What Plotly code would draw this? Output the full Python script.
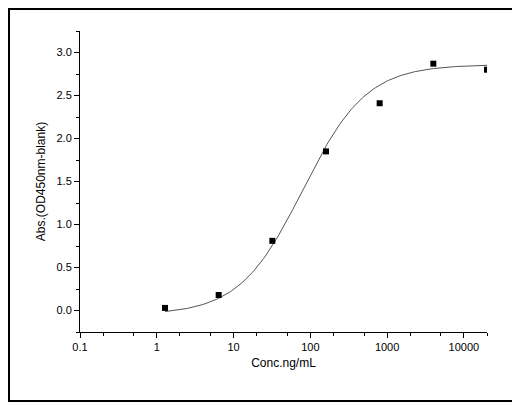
import plotly.graph_objects as go
import numpy as np

conc = [1.28, 6.4, 32, 160, 800, 4000, 20000]
absorb = [0.03, 0.18, 0.81, 1.85, 2.41, 2.87, 2.80]

# 4-parameter logistic fit parameters (bottom, top, EC50, slope)
fit_bottom, fit_top, fit_ec50, fit_slope = -0.05, 2.86, 80, 1.05

xs = np.logspace(np.log10(1.28), np.log10(20000), 200)
ys = fit_top + (fit_bottom - fit_top) / (1 + (xs / fit_ec50) ** fit_slope)

fig = go.Figure()
fig.add_trace(go.Scatter(x=xs, y=ys, mode='lines',
                         line=dict(color='#555555', width=1), hoverinfo='skip'))
fig.add_trace(go.Scatter(x=conc, y=absorb, mode='markers',
                         marker=dict(symbol='square', size=6, color='black')))

axis_common = dict(showline=True, linecolor='black', linewidth=1, ticks='outside',
                   tickcolor='black', ticklen=5, showgrid=False, zeroline=False,
                   mirror=False, tickfont=dict(size=11, color='black'))

W, H = 512, 394
L, R, T, B = 72, 33, 23, 70
pw, ph = W - L - R, H - T - B

fig.update_layout(
    width=W, height=H,
    paper_bgcolor='white', plot_bgcolor='white',
    margin=dict(l=L, r=R, t=T, b=B),
    showlegend=False,
    font=dict(family='Liberation Sans, Arial', color='black'),
    xaxis=dict(type='log', range=[-1, np.log10(20000)],
               tickvals=[0.1, 1, 10, 100, 1000, 10000],
               ticktext=['0.1', '1', '10', '100', '1000', '10000'],
               minor=dict(ticks='outside', ticklen=3, tickcolor='black'),
               title=dict(text='Conc.ng/mL', font=dict(size=12), standoff=6),
               **axis_common),
    yaxis=dict(range=[-0.25, 3.25], tickvals=[0, 0.5, 1, 1.5, 2, 2.5, 3],
               tickformat='.1f',
               minor=dict(ticks='outside', ticklen=3, tickcolor='black', dtick=0.25),
               title=dict(text='Abs.(OD450nm-blank)', font=dict(size=12), standoff=8),
               **axis_common),
    shapes=[dict(type='rect', xref='paper', yref='paper',
                 x0=-(L - 1) / pw, x1=1 + (R - 1) / pw,
                 y0=-(B - 1) / ph, y1=1 + (T - 1) / ph,
                 line=dict(color='black', width=2))],
)

fig.write_html("out.html")
